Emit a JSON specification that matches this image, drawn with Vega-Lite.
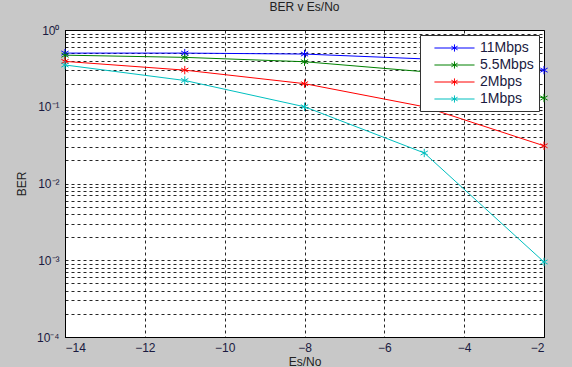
{
  "$schema": "https://vega.github.io/schema/vega-lite/v6.json",
  "width": 479,
  "height": 307,
  "autosize": {"type": "none"},
  "padding": {"left": 65, "top": 30, "right": 28, "bottom": 30},
  "background": "#c8c8c8",
  "title": {"text": "BER v Es/No", "fontSize": 12, "fontWeight": "normal", "font": "Liberation Sans", "color": "#222", "offset": 10},
  "config": {
    "view": {"fill": "white", "stroke": "black", "strokeWidth": 1},
    "axis": {"labelFont": "Liberation Sans", "titleFont": "Liberation Sans", "labelColor": "#1a1a40", "titleColor": "#222", "labelFontSize": 12, "titleFontSize": 12, "titleFontWeight": "normal", "domainColor": "black", "gridColor": "black", "gridDash": [3, 3], "gridOpacity": 0.85, "ticks": false}
  },
  "data": {"values": [
    {"esno": -14, "ber": 0.5, "rate": "11Mbps"},
    {"esno": -11, "ber": 0.5, "rate": "11Mbps"},
    {"esno": -8, "ber": 0.486, "rate": "11Mbps"},
    {"esno": -5, "ber": 0.42, "rate": "11Mbps"},
    {"esno": -2, "ber": 0.3, "rate": "11Mbps"},
    {"esno": -14, "ber": 0.47, "rate": "5.5Mbps"},
    {"esno": -11, "ber": 0.44, "rate": "5.5Mbps"},
    {"esno": -8, "ber": 0.386, "rate": "5.5Mbps"},
    {"esno": -5, "ber": 0.286, "rate": "5.5Mbps"},
    {"esno": -2, "ber": 0.13, "rate": "5.5Mbps"},
    {"esno": -14, "ber": 0.39, "rate": "2Mbps"},
    {"esno": -11, "ber": 0.3, "rate": "2Mbps"},
    {"esno": -8, "ber": 0.2, "rate": "2Mbps"},
    {"esno": -5, "ber": 0.1, "rate": "2Mbps"},
    {"esno": -2, "ber": 0.031, "rate": "2Mbps"},
    {"esno": -14, "ber": 0.35, "rate": "1Mbps"},
    {"esno": -11, "ber": 0.22, "rate": "1Mbps"},
    {"esno": -8, "ber": 0.1, "rate": "1Mbps"},
    {"esno": -5, "ber": 0.025, "rate": "1Mbps"},
    {"esno": -2, "ber": 0.00095, "rate": "1Mbps"}
  ]},
  "encoding": {
    "x": {"field": "esno", "type": "quantitative", "scale": {"domain": [-14, -2], "nice": false, "zero": false},
      "axis": {"title": "Es/No", "values": [-14, -12, -10, -8, -6, -4, -2], "labelPadding": 5, "titlePadding": 3}},
    "y": {"field": "ber", "type": "quantitative", "scale": {"type": "log", "domain": [0.0001, 1], "nice": false},
      "axis": {"title": "BER", "titlePadding": 8, "labelPadding": 6, "labelOverlap": false, "labelBound": false,
        "values": [0.0001,0.0002,0.0003,0.0004,0.0005,0.0006,0.0007,0.0008,0.0009,0.001,0.002,0.003,0.004,0.005,0.006,0.007,0.008,0.009,0.01,0.02,0.03,0.04,0.05,0.06,0.07,0.08,0.09,0.1,0.2,0.3,0.4,0.5,0.6,0.7,0.8,0.9,1],
        "labelExpr": "datum.value == 1 ? '10⁰' : datum.value == 0.1 ? '10⁻¹' : datum.value == 0.01 ? '10⁻²' : datum.value == 0.001 ? '10⁻³' : datum.value == 0.0001 ? '10⁻⁴' : ''"}},
    "color": {"field": "rate", "type": "nominal",
      "scale": {"domain": ["11Mbps", "5.5Mbps", "2Mbps", "1Mbps"], "range": ["#0000ff", "#008000", "#ff0000", "#00bfbf"]},
      "legend": {"title": null, "orient": "none", "legendX": 355, "legendY": 5, "fillColor": "white", "strokeColor": "#333", "padding": 5,
        "labelFont": "Liberation Sans", "labelFontSize": 14, "labelColor": "#1a1a40", "rowPadding": 2, "labelOffset": 39,
        "symbolType": "M0.2,0H5.8M3.0,-0.5V0.5M2.57,-0.25L3.43,0.25M2.57,0.25L3.43,-0.25", "symbolSize": 205, "symbolStrokeWidth": 1, "symbolFillColor": "transparent"}}
  },
  "layer": [
    {"mark": {"type": "line", "strokeWidth": 1}},
    {"mark": {"type": "point", "shape": "M0,-1V1M-0.87,-0.5L0.87,0.5M-0.87,0.5L0.87,-0.5", "size": 70, "filled": false, "strokeWidth": 1, "opacity": 1}}
  ]
}
